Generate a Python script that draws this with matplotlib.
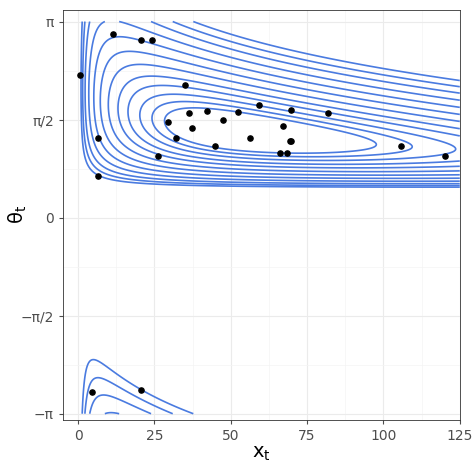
import numpy as np
import matplotlib
matplotlib.use("Agg")
import matplotlib.pyplot as plt

px = [0.65,6.5,6.5,11.4,20.6,24.2,26.1,29.4,32,35,36.3,37.3,42.2,44.8,47.4,52.3,56.2,59.2,66,67,68.3,69.3,69.9,69.9,82,105.6,120.3,4.6,20.6]
pt = [2.29,1.28,0.66,2.95,2.84,2.85,0.98,1.54,1.28,2.12,1.68,1.43,1.71,1.14,1.57,1.70,1.28,1.81,1.04,1.47,1.03,1.22,1.73,1.23,1.68,1.15,0.99,-2.80,-2.76]
x_left = [31,27,23,19,15.5,12,9,6.5,4.5,3,2,1.3]
yticks = [-np.pi,-np.pi/2,0,np.pi/2,np.pi]
ylabels = ["\u2212\u03c0","\u2212\u03c0/2","0","\u03c0/2","\u03c0"]

XC, YC, K, T0, A = 55.0, 0.95, 60.0, 0.4, 0.9
M = YC*(1 + A*XC/K)
def yv(x,t): return np.mod(t - T0, 2*np.pi)
def H(x,y): return x*np.exp(A*(y-YC)) - XC*np.log(x) + K*(y - M*np.log(y))

fig = plt.figure(figsize=(4.74,4.66), dpi=100)
ax = fig.add_axes([0.133,0.099,0.837,0.88])
xs = np.linspace(0.3,125,900); ts = np.linspace(-np.pi,np.pi,900)
X,T = np.meshgrid(xs,ts)
levels = sorted(H(np.array(x_left), YC))
Z = H(X,yv(X,T))
ax.contour(X,T,Z,levels=levels,colors="#4A7BE0",linewidths=1.2,linestyles="solid")
ax.scatter(px,pt,s=14,color="black",zorder=3)
ax.set_xlim(-4.9,124.8); ax.set_ylim(-3.24,3.33)
ax.set_xticks([0,25,50,75,100,125]); ax.set_yticks(yticks); ax.set_yticklabels(ylabels)
ax.set_xticks([12.5,37.5,62.5,87.5,112.5],minor=True)
ax.set_yticks([-3*np.pi/4,-np.pi/4,np.pi/4,3*np.pi/4],minor=True)
ax.grid(True,which="major",color="#EBEBEB",lw=0.8)
ax.grid(True,which="minor",color="#F4F4F4",lw=0.5)
ax.set_axisbelow(True)
for s in ax.spines.values(): s.set_color("#333333"); s.set_linewidth(0.6)
ax.tick_params(colors="#4D4D4D",labelsize=10,length=3,which="major")
ax.tick_params(which="minor",length=0)
ax.set_xlabel("$\\mathregular{x_t}$",fontsize=14,labelpad=1)
ax.set_ylabel("$\\mathregular{\\theta_t}$",fontsize=14)
ax.yaxis.set_label_coords(-0.085,0.5)
fig.savefig("out.png",dpi=100)
